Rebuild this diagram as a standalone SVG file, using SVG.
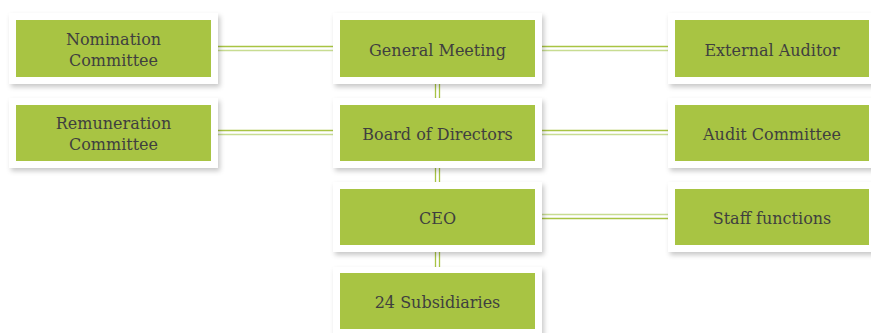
<svg xmlns="http://www.w3.org/2000/svg" width="871" height="333" viewBox="0 0 871 333">
<defs>
<filter id="sh" x="-10%" y="-20%" width="130%" height="150%">
<feDropShadow dx="2" dy="3" stdDeviation="2.5" flood-color="#000" flood-opacity="0.22"/>
</filter>
<style>
.frame{fill:#fff;filter:url(#sh)}
.box{fill:#a8c443}
.t{font-family:"DejaVu Serif","Liberation Serif",serif;font-size:16px;fill:#3f3f3f;text-anchor:middle}
.a{stroke:#a8c443;stroke-width:1.3;fill:none}
.b{stroke:#c8dc92;stroke-width:1.6;fill:none}
</style>
</defs>
<rect width="871" height="333" fill="#fff"/>
<g id="connectors">
<line class="a" x1="218" y1="46.5" x2="333" y2="46.5"/><line class="b" x1="218" y1="50.5" x2="333" y2="50.5"/>
<line class="a" x1="218" y1="130.5" x2="333" y2="130.5"/><line class="b" x1="218" y1="134.5" x2="333" y2="134.5"/>
<line class="a" x1="542" y1="46.5" x2="668" y2="46.5"/><line class="b" x1="542" y1="50.5" x2="668" y2="50.5"/>
<line class="a" x1="542" y1="130.5" x2="668" y2="130.5"/><line class="b" x1="542" y1="134.5" x2="668" y2="134.5"/>
<line class="b" x1="542" y1="214.5" x2="668" y2="214.5"/><line class="a" x1="542" y1="218.5" x2="668" y2="218.5"/>
<line class="a" x1="435.5" y1="84" x2="435.5" y2="98"/><line class="a" x1="439.5" y1="84" x2="439.5" y2="98"/>
<line class="a" x1="435.5" y1="168" x2="435.5" y2="182"/><line class="a" x1="439.5" y1="168" x2="439.5" y2="182"/>
<line class="a" x1="435.5" y1="252" x2="435.5" y2="267"/><line class="a" x1="439.5" y1="252" x2="439.5" y2="267"/>
</g>
<g id="nomination"><rect class="frame" x="9" y="13" width="209" height="71"/><rect class="box" x="16" y="20" width="195" height="57"/>
<text class="t" x="113.5" y="45">Nomination</text><text class="t" x="113.5" y="66">Committee</text></g>
<g id="remuneration"><rect class="frame" x="9" y="98" width="209" height="70"/><rect class="box" x="16" y="105" width="195" height="56"/>
<text class="t" x="113.5" y="129">Remuneration</text><text class="t" x="113.5" y="150">Committee</text></g>
<g id="general-meeting"><rect class="frame" x="333" y="13" width="209" height="71"/><rect class="box" x="340" y="20" width="195" height="57"/>
<text class="t" x="437.5" y="55.5">General Meeting</text></g>
<g id="board"><rect class="frame" x="333" y="98" width="209" height="70"/><rect class="box" x="340" y="105" width="195" height="56"/>
<text class="t" x="437.5" y="139.5">Board of Directors</text></g>
<g id="ceo"><rect class="frame" x="333" y="182" width="209" height="70"/><rect class="box" x="340" y="189" width="195" height="56"/>
<text class="t" x="437.5" y="224">CEO</text></g>
<g id="subsidiaries"><rect class="frame" x="333" y="267" width="209" height="70"/><rect class="box" x="340" y="273" width="195" height="56"/>
<text class="t" x="437.5" y="308">24 Subsidiaries</text></g>
<g id="external-auditor"><rect class="frame" x="668" y="13" width="209" height="71"/><rect class="box" x="675" y="20" width="194" height="57"/>
<text class="t" x="772" y="55.5">External Auditor</text></g>
<g id="audit-committee"><rect class="frame" x="668" y="98" width="209" height="70"/><rect class="box" x="675" y="105" width="194" height="56"/>
<text class="t" x="772" y="139.5">Audit Committee</text></g>
<g id="staff-functions"><rect class="frame" x="668" y="182" width="209" height="70"/><rect class="box" x="675" y="189" width="194" height="56"/>
<text class="t" x="772" y="224">Staff functions</text></g>
</svg>
